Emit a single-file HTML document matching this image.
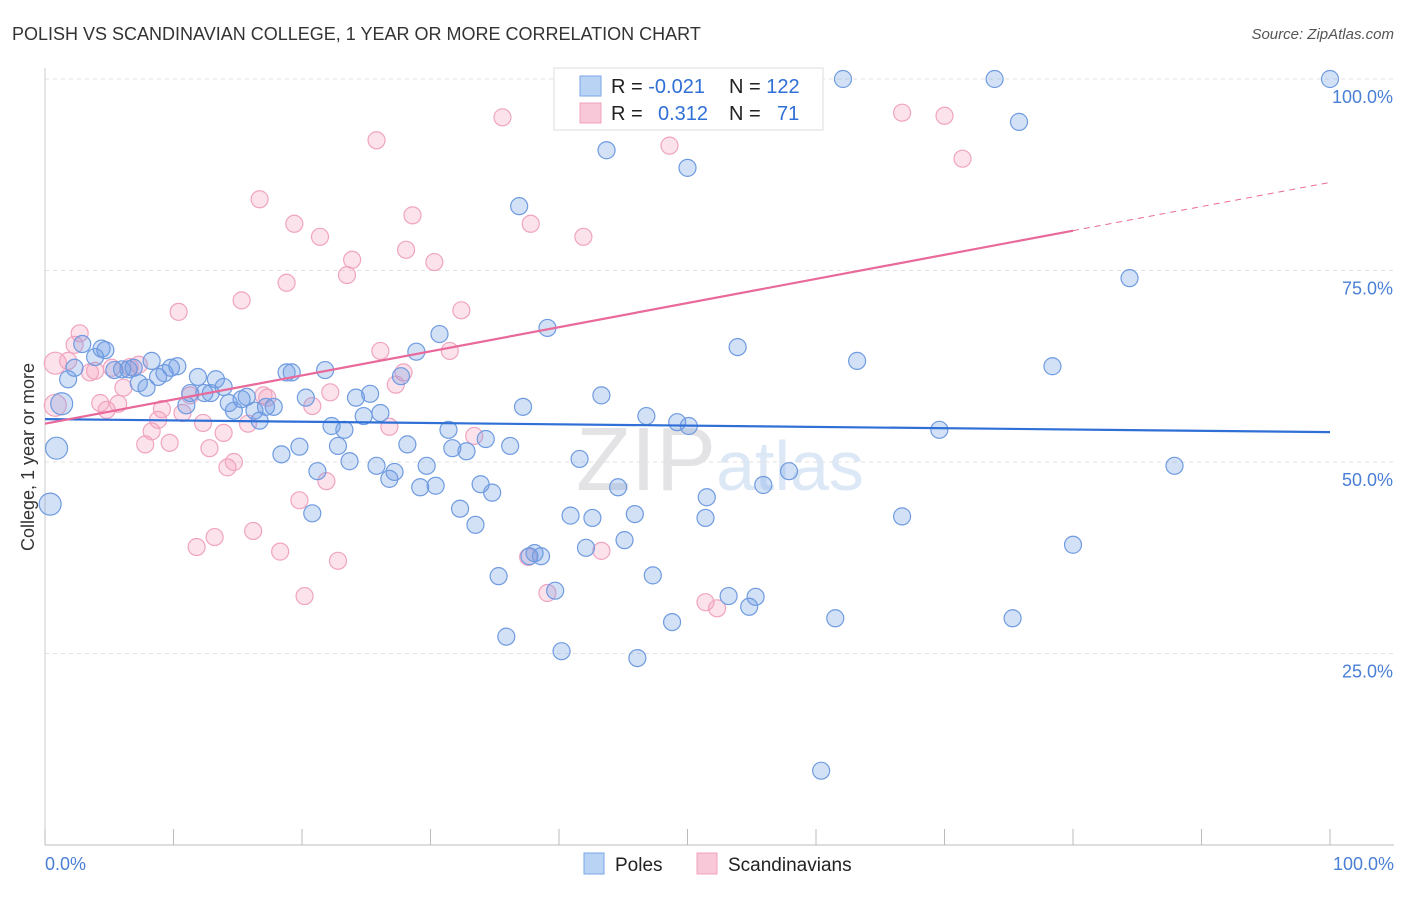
<!DOCTYPE html>
<html><head><meta charset="utf-8"><style>
body{margin:0;background:#fff;font-family:"Liberation Sans",sans-serif}
svg text{font-family:"Liberation Sans",sans-serif}
</style></head><body>
<svg id="chart" width="1406" height="892" xmlns="http://www.w3.org/2000/svg">
<text x="12" y="40" font-size="18" fill="#333">POLISH VS SCANDINAVIAN COLLEGE, 1 YEAR OR MORE CORRELATION CHART</text>
<text x="1394" y="39" font-size="15" fill="#555" font-style="italic" text-anchor="end">Source: ZipAtlas.com</text>
<text x="34" y="457" font-size="18" fill="#333" text-anchor="middle" transform="rotate(-90 34 457)">College, 1 year or more</text>
<text x="720" y="490" font-size="90" fill="#e8e8ec" text-anchor="middle" font-family="Liberation Serif"><tspan fill="#e3e3e6">ZIP</tspan><tspan fill="#dce8f6" font-family="Liberation Sans" font-size="70">atlas</tspan></text>
<g id="grid"></g><g id="axes"></g><g id="pts"></g><g id="lines"></g>
<g>
<rect x="554" y="68" width="269" height="62" fill="#fff" stroke="#ddd"/>
<rect x="580" y="76" width="21" height="20" fill="#b9d3f5" stroke="#7aa6e6"/>
<rect x="580" y="103" width="21" height="20" fill="#f9c8d8" stroke="#f0a0bc"/>
<text x="611" y="93" font-size="20" fill="#222">R = <tspan fill="#2f6fd6">-0.021</tspan></text>
<text x="729" y="93" font-size="20" fill="#222">N = <tspan fill="#2f6fd6">122</tspan></text>
<text x="611" y="120" font-size="20" fill="#222">R = <tspan fill="#2f6fd6" x="658">0.312</tspan></text>
<text x="729" y="120" font-size="20" fill="#222">N = <tspan fill="#2f6fd6" x="777">71</tspan></text>
</g>
<g>
<rect x="584" y="853" width="20" height="21" fill="#b9d3f5" stroke="#7aa6e6"/>
<text x="615" y="871" font-size="19" fill="#222">Poles</text>
<rect x="697" y="853" width="20" height="21" fill="#f9c8d8" stroke="#f0a0bc"/>
<text x="728" y="871" font-size="19" fill="#222">Scandinavians</text>
</g>
<text x="45" y="870" font-size="18" fill="#4a7fd6">0.0%</text>
<text x="1394" y="870" font-size="18" fill="#4a7fd6" text-anchor="end">100.0%</text>
</svg>
<script>
const yTicks=[100,75,50,25];
const yTickLabels=["100.0%","75.0%","50.0%","25.0%"];
const polesX=[0.4,0.9,1.3,1.8,2.3,2.9,3.9,4.4,4.7,5.4,6.0,6.5,6.9,7.3,7.9,8.3,8.8,9.3,9.8,10.3,11.0,11.3,11.9,12.4,12.9,13.3,13.9,14.3,14.7,15.3,15.7,16.3,16.7,17.2,17.8,18.4,18.8,19.2,19.8,20.3,20.8,21.2,21.8,22.3,22.8,23.3,23.7,24.2,24.8,25.3,25.8,26.1,26.8,27.2,27.7,28.2,28.9,29.2,29.7,30.4,30.7,31.4,31.7,32.3,32.8,33.5,33.9,34.3,34.8,35.3,35.9,36.2,36.9,37.2,37.7,38.1,38.6,39.1,39.7,40.2,40.9,41.6,42.1,42.6,43.3,43.7,44.6,45.1,45.9,46.1,46.8,47.3,48.8,49.2,50.0,50.1,51.5,51.4,53.2,53.9,54.8,55.3,55.9,57.9,60.4,61.5,62.1,63.2,66.7,69.6,73.9,75.3,75.8,78.4,80.0,84.4,87.9,100,47.9,54.3];
const polesY=[44.5,51.8,57.6,60.8,62.3,65.4,63.7,64.8,64.6,62.0,62.1,62.1,62.3,60.3,59.7,63.2,61.1,61.6,62.3,62.5,57.4,59.0,61.1,59.0,59.0,60.8,59.8,57.7,56.7,58.2,58.5,56.7,55.4,57.2,57.2,51.0,61.7,61.7,52.0,58.4,43.3,48.8,62.0,54.7,52.1,54.2,50.1,58.4,56.0,58.9,49.5,56.4,47.8,48.7,61.2,52.3,64.4,46.7,49.5,46.9,66.7,54.2,51.8,43.9,51.4,41.8,47.1,53.0,46.0,35.1,27.2,52.1,83.4,57.2,37.7,38.1,37.7,67.5,33.2,25.3,43.0,50.4,38.8,42.7,58.7,90.7,46.7,39.8,43.2,24.4,56.0,35.2,29.1,55.2,88.4,54.7,45.4,42.7,32.5,65.0,31.1,32.4,47.0,48.8,9.7,29.6,100,63.2,42.9,54.2,100,29.6,94.4,62.5,39.2,74.0,49.5,100,100,100];
const scX=[0.8,0.8,1.8,2.3,2.7,3.5,3.9,4.3,4.8,5.2,5.7,6.1,6.6,7.3,7.8,8.3,8.8,9.1,9.7,10.4,10.7,11.3,11.8,12.3,12.8,13.2,13.9,14.2,14.7,15.3,15.8,16.2,16.7,17.0,17.3,18.3,18.8,19.4,19.8,20.2,20.8,21.4,21.9,22.2,22.8,23.5,23.9,25.8,26.1,26.8,27.3,27.9,28.1,28.6,30.3,31.5,32.4,33.4,35.6,37.6,37.8,39.1,41.9,43.3,47.2,48.6,51.4,52.3,66.7,70.0,71.4];
const scY=[57.4,62.9,63.2,65.3,66.8,61.7,61.9,57.7,56.8,62.3,57.6,59.7,62.4,62.7,52.3,54.0,55.5,56.9,52.5,69.6,56.4,58.7,38.9,55.1,51.8,40.2,53.8,49.3,50.0,71.1,55.0,41.0,84.3,58.7,58.4,38.3,73.4,81.1,45.0,32.5,57.3,79.4,47.5,59.1,37.1,74.4,76.4,92.0,64.5,54.6,60.1,61.7,77.7,82.2,76.1,64.5,69.8,53.4,95.0,37.6,81.1,32.9,79.4,38.4,100,91.3,31.7,30.9,95.6,95.2,89.6];
const polesTrend=[55.6,53.9];
const scTrend=[55.0,86.5];
const NS="http://www.w3.org/2000/svg";
const X0=45,X1=1330,Y0=845,Y100=79;
const sx=v=>X0+(X1-X0)*v/100, sy=v=>Y0-(Y0-Y100)*v/100;
function mk(t,a,p){const e=document.createElementNS(NS,t);for(const k in a)e.setAttribute(k,a[k]);p.appendChild(e);return e;}
const grid=document.getElementById('grid'),axes=document.getElementById('axes'),pts=document.getElementById('pts'),lines=document.getElementById('lines');
yTicks.forEach((t,i)=>{
 const l=mk('line',{x1:X0,x2:1394,y1:sy(t),y2:sy(t),stroke:'#e2e2e2','stroke-dasharray':'4,4'},grid);
 
 
 const tx=mk('text',{x:1393,y:sy(t)+24,'font-size':18,fill:'#4a7fd6','text-anchor':'end'},grid);
 tx.textContent=yTickLabels[i];
 
 
});
const xa=mk('line',{x1:X0,x2:1394,y1:Y0,y2:Y0,stroke:'#bbb'},axes);


const ya=mk('line',{x1:X0,x2:X0,y1:68,y2:Y0,stroke:'#ccc'},axes);


for(let i=0;i<=10;i++){const tk=mk('line',{x1:sx(i*10),x2:sx(i*10),y1:Y0-16,y2:Y0,stroke:'#bbb'},axes);
 
 }
function dots(xs,ys,fill,stroke,name,big){
 xs.forEach((x,i)=>{const r=big.includes(i)?11:8.5;
  const c=mk('circle',{cx:sx(x),cy:sy(ys[i]),r:r,fill:fill,stroke:stroke,'stroke-width':1.2},pts);
  
  });
}
dots(scX,scY,'rgba(244,160,190,0.3)','#f0a4c0','scandinavians-point',[0,1]);
dots(polesX,polesY,'rgba(110,155,230,0.3)','#6f9be0','poles-point',[0,1,2]);
const pl=mk('line',{x1:sx(0),y1:sy(polesTrend[0]),x2:sx(100),y2:sy(polesTrend[1]),stroke:'#2f6fd6','stroke-width':2.2},lines);


const sAt=v=>scTrend[0]+(scTrend[1]-scTrend[0])*v/100;
const s1=mk('line',{x1:sx(0),y1:sy(sAt(0)),x2:sx(80),y2:sy(sAt(80)),stroke:'#e8699a','stroke-width':2.2},lines);


const s2=mk('line',{x1:sx(80),y1:sy(sAt(80)),x2:sx(100),y2:sy(sAt(100)),stroke:'#e8699a','stroke-width':1,'stroke-dasharray':'6,5'},lines);


</script>
</body></html>
